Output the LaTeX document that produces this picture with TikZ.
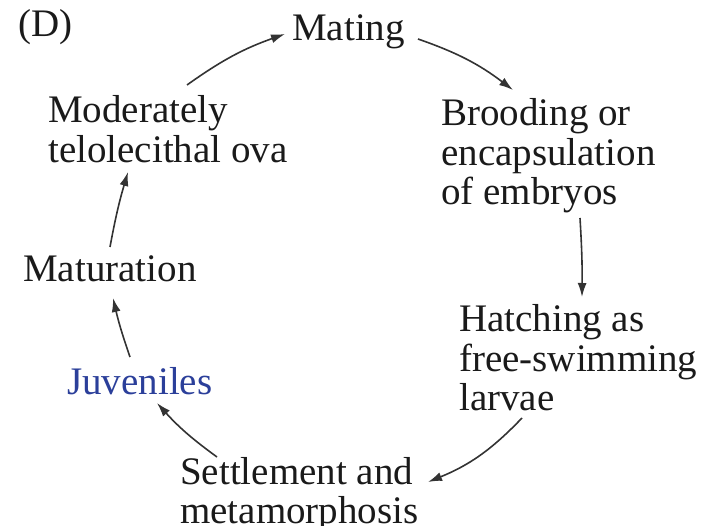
\documentclass[tikz,border=0pt]{standalone}
\usepackage{fontspec}
\setmainfont{Liberation Serif}
\usetikzlibrary{arrows.meta,calc}
\definecolor{txt}{HTML}{1A1A1A}
\definecolor{juvblue}{HTML}{2B3F9A}
\definecolor{arrc}{HTML}{333333}
\begin{document}
\begin{tikzpicture}[x=1pt,y=-1pt,
  lbl/.style={inner sep=0pt,anchor=base west,align=left,text=txt,
    font=\fontsize{39}{39.5}\selectfont},
  arr/.style={draw=arrc,line width=1.6pt,-{Latex[length=14pt,width=9pt]}}]
\useasboundingbox (0,0) rectangle (705,526);
% single-line nodes: base = baseline; multi-line nodes: base = last line's baseline
\node[lbl] (d) at (18,37) {(D)};
\node[lbl] (mating) at (292,41) {Mating};
\node[lbl] (brood) at (441,205) {Brooding or\\encapsulation\\of embryos};
\node[lbl] (hatch) at (459,411) {Hatching as\\free-swimming\\larvae};
\node[lbl] (settle) at (180,524) {Settlement and\\metamorphosis};
\node[lbl,text=juvblue] (juv) at (67,395) {Juveniles};
\node[lbl] (mat) at (23,282) {Maturation};
\node[lbl] (ova) at (48,162.5) {Moderately\\telolecithal ova};
\draw[arr] ($(ova.base west)+(139,-77.5)$) to[bend left=8] ($(mating.base west)+(-7,-7)$);
\draw[arr] ($(mating.base west)+(126,-2)$) to[bend left=9] ($(brood.base west)+(72,-115)$);
\draw[arr] ($(brood.base west)+(139,13)$) to[bend left=2] ($(hatch.base west)+(123,-114)$);
\draw[arr] ($(hatch.base west)+(63,7)$) to[bend left=12] ($(settle.base west)+(248,-42)$);
\draw[arr] ($(settle.base west)+(37,-67)$) to[bend left=6] ($(juv.base west)+(90,8)$);
\draw[arr] ($(juv.base west)+(63,-38)$) to[bend left=3] ($(mat.base west)+(90,16)$);
\draw[arr] ($(mat.base west)+(87,-35)$) to[bend left=3] ($(ova.base west)+(80,9.5)$);
\end{tikzpicture}
\end{document}
